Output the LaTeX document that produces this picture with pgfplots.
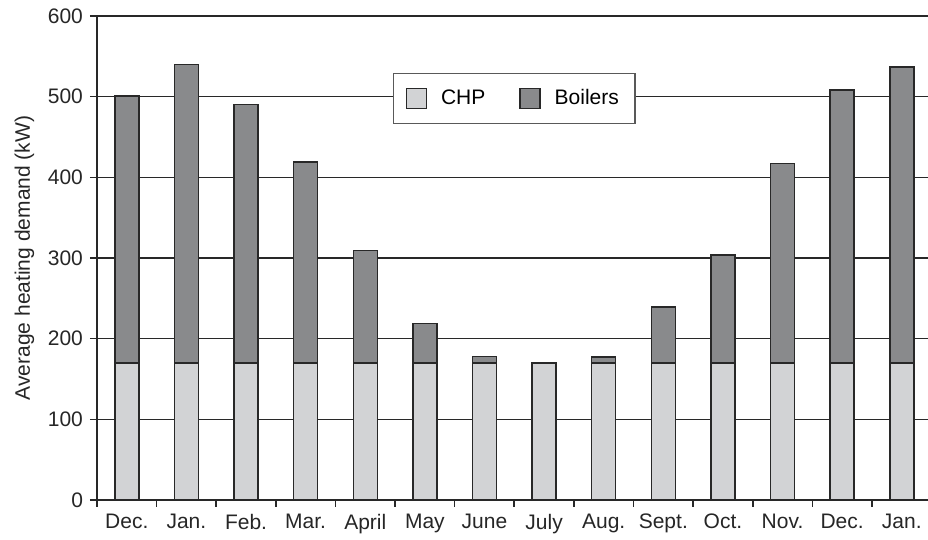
\documentclass[border=0pt]{standalone}
\usepackage{pgfplots}
\pgfplotsset{compat=1.18}
\usepackage{fontspec}
\setmainfont{Liberation Sans}
\usetikzlibrary{calc}
\definecolor{chp}{RGB}{210,211,213}
\definecolor{boil}{RGB}{137,138,140}
\definecolor{edge}{RGB}{40,40,40}
\begin{document}
\begin{tikzpicture}[font=\fontsize{10.5}{12.5}\selectfont]
\begin{axis}[
 scale only axis, width=415.5pt, height=242pt,
 xmin=-0.5, xmax=13.44, ymin=0, ymax=600,
 ybar stacked, bar width=12pt,
 axis x line=bottom, axis y line=left,
 x axis line style={-, line width=0.8pt, color=edge},
 y axis line style={-, line width=0.8pt, color=edge},
 ytick={0,100,...,600},
 ymajorgrids, grid style={line width=0.75pt, color=edge},
 xtick={0,...,13},
 xticklabels={Dec.,Jan.,Feb.,Mar.,April,May,June,July,Aug.,Sept.,Oct.,Nov.,Dec.,Jan.},
 minor xtick={-0.5,0.5,...,12.5},
 major x tick style={draw=none},
 minor x tick style={line width=0.8pt, color=edge},
 major y tick style={line width=0.8pt, color=edge},
 tick align=outside, major tick length=3.5pt, minor tick length=3.5pt,
 /pgf/number format/assume math mode=true,
 tick label style={font=\fontsize{10.5}{12.5}\selectfont, text=black!85},
 ylabel={Average heating demand (kW)},
 ylabel style={font=\fontsize{10.5}{12.5}\selectfont, text=black!85},
 legend style={at={(axis cs:6.5,498)}, anchor=center, legend columns=2,
   draw=black!65, fill=white, line width=0.6pt, inner xsep=6pt, inner ysep=6pt,
   font=\fontsize{10.5}{12.5}\selectfont,
   /tikz/every even column/.append style={column sep=15pt}},
 legend image code/.code={\draw[#1, line width=0.6pt] (0pt,-5pt) rectangle (10pt,5pt); \path (15pt,0pt);},
]
\addplot[fill=chp, draw=edge, line width=0.75pt] coordinates {
(0,170) (1,170) (2,170) (3,170) (4,170) (5,170) (6,170) (7,170) (8,170) (9,170) (10,170) (11,170) (12,170) (13,170)};
\addplot[fill=boil, draw=edge, line width=0.75pt] coordinates {
(0,331) (1,370) (2,320) (3,249) (4,139) (5,49) (6,8) (7,0) (8,7) (9,69) (10,134) (11,247) (12,338) (13,367)};
\legend{CHP, Boilers}
\end{axis}
\pgfresetboundingbox
\path[use as bounding box] ($(current axis.south west)+(-48.5pt,-20pt)$) rectangle ($(current axis.north east)+(0pt,8pt)$);
\end{tikzpicture}
\end{document}
